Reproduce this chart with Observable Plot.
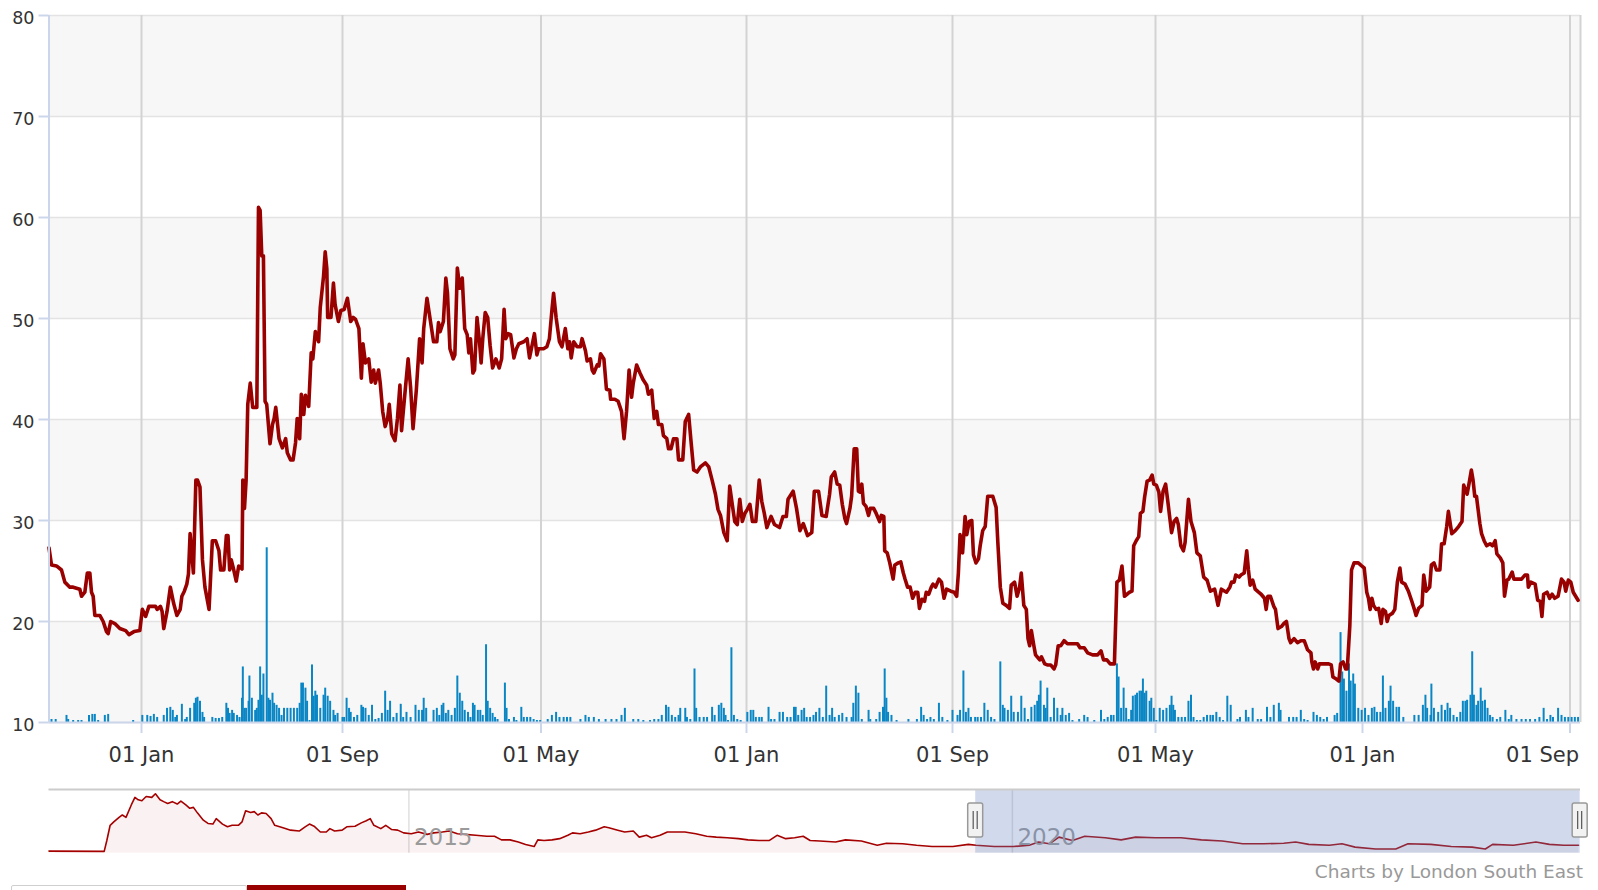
<!DOCTYPE html>
<html><head><meta charset="utf-8">
<script src="https://cdn.jsdelivr.net/npm/d3@7"></script>
<script src="https://cdn.jsdelivr.net/npm/@observablehq/plot@0.6"></script>
<style>
html,body{margin:0;padding:0;background:#fff;overflow:hidden;font-family:"DejaVu Sans",sans-serif;}
#wrap{position:relative;width:1598px;height:890px;overflow:hidden;}
#main{position:absolute;left:0;top:0;}
#nav{position:absolute;left:0;top:780px;}
#credits{position:absolute;right:15px;top:861px;font-size:18.5px;color:#999;white-space:nowrap;}
#tab1{position:absolute;left:11px;top:885px;width:234px;height:20px;border:1px solid #cfcfcf;border-radius:2px;background:#fff;}
#tab2{position:absolute;left:247px;top:885px;width:159px;height:20px;background:#990000;}
</style></head><body>
<div id="wrap"><div id="main"></div><div id="nav"></div>
<div id="credits">Charts by London South East</div>
<div id="tab1"></div><div id="tab2"></div></div>
<script>
// ---- time frame of the main chart (days are counted from START) ----
const START = new Date(Date.UTC(2019, 8, 12));
const END = new Date(Date.UTC(2024, 8, 14));
const NAV_START = new Date(Date.UTC(2012, 0, 8));
const NAV_END = new Date(Date.UTC(2024, 8, 15));

// ---- price series: day since START, closing price ----
const priceDays = [
0,3,9,15,19,25,29,37,39,43,
46,49,51,53,55,61,65,69,71,74,
79,85,92,96,102,109,112,116,120,128,
130,134,136,138,142,146,150,154,158,160,
163,166,168,170,174,177,179,182,185,188,
193,197,201,205,207,211,214,216,218,220,
223,226,229,233,234,236,238,240,243,246,
251,253,255,257,259,261,263,267,270,272,
274,278,282,286,288,292,295,298,300,303,
305,308,310,314,317,319,322,326,328,332,
334,336,337,341,344,346,350,353,357,361,
365,368,371,375,378,380,383,387,390,393,
395,399,401,404,407,410,412,415,419,422,
425,427,431,435,438,441,445,449,452,454,
458,466,470,472,474,478,481,483,486,490,
492,495,498,501,504,507,509,511,514,516,
519,522,524,526,529,532,535,538,542,546,
549,552,554,557,560,564,567,570,576,580,
583,586,589,592,594,600,604,607,610,612,
615,619,622,626,629,631,633,636,640,644,
646,650,652,656,658,660,664,666,668,672,
675,679,680,685,689,693,696,699,702,705,
707,711,715,719,723,725,729,732,735,737,
741,743,747,749,752,755,759,761,766,769,
773,776,779,783,787,793,797,801,805,808,
811,815,819,822,825,828,831,834,837,840,
843,846,849,853,857,860,863,866,871,875,
881,885,889,891,897,901,905,909,914,919,
922,927,931,936,940,942,946,949,952,955,
958,960,964,966,969,972,974,976,978,980,
983,986,988,992,995,999,1001,1004,1005,1008,
1011,1015,1017,1021,1024,1027,1029,1032,1035,1038,
1041,1044,1046,1049,1052,1054,1057,1060,1062,1065,
1069,1072,1075,1078,1083,1087,1090,1092,1094,1097,
1100,1102,1105,1108,1110,1113,1116,1118,1121,1124,
1127,1133,1137,1139,1142,1145,1149,1153,1155,1159,
1162,1165,1167,1170,1173,1175,1177,1179,1182,1184,
1189,1191,1195,1198,1202,1206,1208,1211,1214,1218,
1222,1226,1234,1237,1242,1246,1252,1258,1262,1265,
1269,1273,1278,1281,1284,1287,1290,1293,1296,1299,
1301,1304,1307,1309,1312,1314,1317,1320,1323,1325,
1328,1331,1333,1336,1339,1342,1346,1349,1352,1354,
1357,1360,1362,1366,1369,1373,1376,1380,1384,1388,
1392,1397,1401,1405,1411,1415,1417,1420,1422,1426,
1428,1432,1435,1437,1439,1442,1445,1449,1452,1456,
1458,1460,1463,1467,1469,1472,1476,1479,1482,1485,
1487,1491,1495,1499,1503,1507,1511,1512,1514,1516,
1519,1521,1526,1532,1535,1537,1541,1544,1546,1549,
1552,1554,1557,1559,1562,1567,1571,1574,1577,1579,
1581,1583,1585,1588,1591,1594,1596,1599,1601,1603,
1607,1610,1613,1616,1618,1622,1626,1630,1633,1635,
1638,1642,1644,1647,1651,1653,1656,1659,1663,1665,
1668,1671,1673,1677,1681,1685,1689,1691,1695,1698,
1700,1702,1704,1706,1710,1712,1715,1718,1722,1725,
1728,1730,1734,1737,1739,1742,1744,1748,1750,1755,
1759,1763,1766,1767,1770,1775,1778,1781,1783,1785,
1789,1792,1795,1798,1802,1806,1809,1811,1814,1817,
1820,1823,1826
];
const priceValues = [
27.3,25.6,25.5,25.1,23.9,23.4,23.4,23.2,22.5,22.9,
24.8,24.8,22.9,22.5,20.6,20.6,20,19,18.8,20,
19.8,19.3,19.1,18.7,19,19.1,21.2,20.5,21.5,21.5,
21.2,21.5,21,19.3,21,23.4,21.8,20.6,21.2,22.5,
23,23.7,24.7,28.7,24.8,34,34,33.3,26.1,23.4,
21.2,28,28,27,25.1,25.1,28.5,28.5,25.1,26.1,
25.1,24,25.5,25.2,34,31.2,34,41.5,43.6,41.2,
41.2,61,60.7,56.2,56.2,41.8,41.5,37.6,39.5,40.1,
41.2,38.1,37.2,38.1,36.7,36,36,37.7,40.1,38.1,
42.5,40.5,42.4,41.3,46.6,46,48.7,47.7,51.1,54.2,
56.6,54.9,50.1,50.1,53.5,51.4,49.7,50.8,50.9,52,
49.7,50.1,49.9,49,44.1,47.5,45.6,46,43.7,44.9,
43.6,44.9,43.6,40.8,39.3,40.1,41.5,38.6,37.9,40.1,
43.4,38.9,42.5,46,43.2,39.1,42.9,48,45.6,49,
52,47.7,47.7,49.6,48.7,49.7,54,52.5,47,46,
46.4,55,53,54,49,48.4,46.6,48,44.6,44.9,
50.1,47.7,45.6,48,50.6,50.1,47.3,45.1,46,45.1,
46,50.9,48,48.5,48.4,46.1,47,47.5,47.7,48,
46.1,47.3,48.5,46.4,47,47,47.2,48,50.8,52.5,
50.1,47.7,47.2,49,47,47.7,46.1,47.7,47.2,47.2,
48,46.8,45.8,46,44.9,44.6,45.4,45.3,46.5,46,
43,42.9,42,42,41.8,40.8,38.1,40.8,44.9,42.2,
43.6,45.4,44.6,43.9,43.4,42.5,42.9,40.1,40.8,39.5,
39.5,38.4,38.1,37.1,37.1,38.1,38.1,36,36,39.8,
40.5,37.7,35,34.8,35.3,35.7,35.3,34,32.6,31.1,
30.5,28.8,28,33.4,31.6,29.9,29.6,32.1,29.9,30.7,
31.1,31.6,29.9,29.9,34,31.9,30.7,29.3,30.4,29.6,
29.3,30.4,30.4,32.1,32.9,31.2,29,29.7,28.5,28.8,
32.9,32.9,30.5,30.4,32.6,34.3,34.8,33.6,33.5,31.6,
30.2,29.7,31.2,32.4,37.1,37.1,32.9,32.8,33.6,31.7,
31.4,30.5,31.2,31.2,30.7,29.9,30.5,30.4,27,26.8,
25.8,24.2,25.6,25.8,25.9,24.8,24.2,23.4,23.4,22.3,
22.9,22.9,21.3,22.2,22,22.9,22.7,23.4,23.7,23.4,
24.2,23.9,22.3,23.2,23,22.9,22.5,24.8,28.6,26.8,
30.4,28.6,29.9,30,26.6,25.8,26.2,27.5,29,29.4,
32.4,32.4,31.3,27.9,23.4,21.8,21.6,21.3,23.6,23.9,
22.5,23.4,24.8,21.6,21.2,18.3,17.6,19.1,17.6,16.7,
16.2,16.5,15.8,15.7,15.7,15.3,15.7,17.6,17.6,18.1,
17.8,17.8,17.8,17.4,17.4,16.9,16.7,16.7,17.1,16.2,
16.2,15.8,15.8,23.9,24.1,25.5,22.5,22.7,22.9,23,
27.5,28,28.4,30.7,30.9,32.3,33.9,34,34.5,33.6,
33.5,32.8,30.9,32.9,33.6,31.6,28.8,29.9,30.2,29.6,
27.5,27,27.8,32.1,29.9,28.8,26.8,26.5,24.4,24.1,
23,23.2,21.6,23.2,22.9,23.4,23.9,23.9,24.6,24.4,
24.6,24.8,27,25.1,23.6,24.1,23.2,22.9,22.7,22.3,
21.2,22.5,22.5,21.5,21.2,19.3,19.5,19.8,20,18.3,
17.9,18.3,17.9,18.1,18.1,17.2,16.9,16,15.3,16,
15.3,15.8,15.8,15.8,15.7,14.5,14.3,14.1,15.8,16,
15.3,15.3,19.6,25.1,25.8,25.8,25.5,25.3,22.9,22.3,
21.2,22.3,21.6,21.2,21.3,19.8,21.2,21,20,20.6,
20.8,21.2,23.9,25.3,23.9,23.7,23,22,21.2,20.6,
21.3,21.6,24.6,23,23.4,25.6,25.8,25.1,25.1,27.7,
27.7,29.4,30.9,28.7,29,29.4,29.9,33.5,32.6,34,
35,34,32.4,32.4,29.7,28.7,28,27.5,27.7,27.5,
28,26.7,26.3,25.8,22.5,24.1,24.2,24.9,24.2,24.2,
24.2,24.6,24.6,23.4,23.9,23.7,22.1,22,20.5,22.7,
22.9,22.3,22.7,22.3,22.5,24.2,23.9,23,24.1,23.9,
22.9,22.5,22.1
];

// ---- volume series: day since START, volume (100k shares) ----
const volumeDays = [
3,8,21,23,29,35,39,48,52,55,
59,67,71,101,112,118,122,126,130,138,
142,146,149,152,154,160,164,166,170,175,
177,179,182,185,187,197,201,205,209,214,
216,218,221,223,227,230,233,234,236,238,
241,242,245,249,251,253,255,257,259,263,
265,267,270,272,275,278,281,284,288,292,
296,300,303,305,307,310,312,315,318,320,
322,324,328,332,334,337,340,344,346,349,
355,357,360,363,365,369,373,378,380,383,
387,391,395,399,403,407,410,413,417,421,
426,429,433,438,444,448,452,454,457,466,
470,473,476,478,481,484,488,492,495,498,
501,504,508,511,514,516,520,523,526,530,
532,535,538,541,544,553,555,558,564,567,
573,576,580,584,588,592,596,605,610,615,
619,624,628,632,644,650,654,660,666,674,
681,687,693,697,707,713,719,727,732,737,
741,746,749,753,757,761,763,769,771,775,
780,782,786,791,795,801,804,809,812,815,
817,820,824,827,831,835,843,847,850,853,
857,860,868,871,875,881,885,890,894,898,
900,903,907,910,913,917,921,924,928,932,
936,940,943,946,951,955,960,966,968,971,
974,978,986,988,995,999,1003,1005,1007,1009,
1013,1019,1033,1043,1048,1051,1055,1059,1063,1069,
1073,1079,1085,1091,1094,1098,1101,1104,1107,1112,
1115,1119,1123,1127,1131,1135,1142,1145,1147,1151,
1155,1158,1163,1167,1171,1175,1179,1183,1186,1188,
1190,1194,1196,1198,1202,1206,1210,1214,1216,1220,
1224,1228,1236,1242,1246,1254,1262,1266,1270,1274,
1277,1281,1283,1286,1289,1292,1295,1298,1300,1303,
1305,1308,1310,1312,1314,1316,1320,1322,1325,1328,
1332,1336,1340,1344,1346,1348,1350,1354,1358,1362,
1366,1369,1372,1376,1380,1384,1388,1392,1395,1399,
1403,1407,1412,1416,1424,1427,1434,1437,1442,1448,
1452,1459,1463,1467,1473,1475,1485,1490,1494,1499,
1503,1507,1514,1518,1522,1526,1530,1539,1542,1546,
1548,1550,1553,1556,1558,1561,1563,1567,1571,1575,
1579,1583,1586,1589,1593,1596,1599,1603,1605,1608,
1612,1615,1620,1633,1638,1643,1646,1648,1652,1653,
1656,1661,1665,1669,1672,1675,1679,1683,1687,1690,
1693,1695,1699,1701,1703,1706,1708,1711,1713,1716,
1719,1722,1725,1730,1734,1740,1744,1747,1753,1759,
1764,1769,1775,1780,1785,1789,1793,1796,1802,1806,
1810,1814,1818,1822,1826
];
const volumeValues = [
3,3,7,3,2,2,2,7,8,8,
2,7,8,2,7,7,6,8,5,7,
14,15,12,5,7,18,3,5,14,19,
24,25,21,10,5,5,4,4,5,19,
14,9,12,9,7,5,24,55,14,14,
21,46,24,12,14,22,55,27,48,173,
24,22,29,19,17,14,7,14,14,14,
14,14,19,39,39,34,21,2,57,26,
31,27,14,27,34,26,21,12,7,9,
5,5,24,14,10,5,7,17,15,14,
7,17,3,4,9,31,12,21,5,9,
18,5,10,5,17,12,12,24,14,12,
14,7,17,19,9,12,7,14,46,29,
21,12,10,5,19,17,12,12,7,77,
21,14,9,5,3,39,14,3,5,2,
15,5,5,5,3,2,2,3,7,10,
5,5,5,5,3,7,5,5,3,3,
3,3,7,14,3,3,2,2,3,3,
7,17,15,7,5,7,14,14,5,3,
53,14,5,5,5,15,7,17,19,14,
7,2,74,7,3,2,10,12,12,5,
5,5,15,3,3,10,10,5,5,15,
15,7,12,14,5,5,7,10,14,5,
36,7,14,5,7,9,5,5,19,36,
29,3,12,3,3,10,15,53,24,10,
7,2,3,3,15,7,3,5,3,19,
5,2,12,7,12,51,10,14,5,5,
5,5,19,12,5,3,60,17,14,12,
26,10,10,26,14,3,15,17,21,27,
41,17,14,34,5,24,14,7,14,7,
9,2,3,7,5,2,12,3,5,7,
7,58,45,14,34,14,3,12,26,27,
29,31,31,43,29,31,21,24,14,2,
14,12,14,17,26,17,12,5,5,5,
21,27,5,2,2,5,7,7,7,10,
5,2,26,17,3,5,12,5,14,3,
3,15,5,17,19,12,5,5,5,12,
3,2,10,7,5,3,5,7,9,89,
50,43,31,58,41,48,38,14,12,14,
7,14,15,10,10,46,14,21,36,21,
15,15,5,7,7,17,27,14,7,38,
14,10,17,12,19,14,7,5,10,21,
21,22,27,70,27,17,21,34,21,22,
14,7,5,3,5,12,3,7,3,3,
3,3,3,5,14,3,7,5,14,7,
5,5,5,5,5
];
const VOLUME_TO_PRICE = 0.1; // volume pane scaling onto the price axis

// ---- navigator (full history) ----
const navDates = [
"2012-01-08","2012-06-23","2012-07-01","2012-07-11","2012-07-22","2012-08-07","2012-08-17","2012-08-28","2012-09-13","2012-09-24","2012-10-04","2012-10-15","2012-10-28","2012-11-14","2012-11-25","2012-12-09","2012-12-20",
"2013-01-01","2013-01-15","2013-01-30","2013-02-10","2013-02-25","2013-03-09","2013-03-20","2013-04-01","2013-04-19","2013-05-03","2013-05-18","2013-05-28","2013-06-16","2013-07-01","2013-07-15","2013-08-03","2013-08-14","2013-08-25","2013-09-09","2013-09-20","2013-10-01","2013-10-12","2013-10-26","2013-11-10","2013-11-21","2013-12-16",
"2014-01-08","2014-02-03","2014-02-21","2014-03-06","2014-03-20","2014-04-08","2014-04-26","2014-05-07","2014-05-21","2014-06-13","2014-06-27","2014-07-22","2014-08-10","2014-08-25","2014-09-06","2014-09-17","2014-10-08","2014-10-23","2014-11-10","2014-11-28","2014-12-16",
"2015-01-08","2015-01-30","2015-02-25","2015-03-17","2015-04-12","2015-05-03","2015-05-28","2015-06-20","2015-07-22","2015-08-25","2015-09-17","2015-10-08","2015-11-03","2015-11-28","2015-12-20",
"2016-01-15","2016-01-26","2016-02-14","2016-03-09","2016-04-01","2016-04-26","2016-05-10","2016-06-02","2016-06-27","2016-07-19","2016-08-14","2016-08-28","2016-09-24","2016-10-15","2016-11-10","2016-11-28","2016-12-20",
"2017-01-04","2017-01-30","2017-02-21","2017-03-17","2017-04-15","2017-05-18","2017-06-20","2017-07-19","2017-08-21","2017-09-24","2017-10-23","2017-11-25","2017-12-27",
"2018-01-19","2018-02-14","2018-03-13","2018-04-08","2018-04-29","2018-05-28","2018-07-15","2018-08-14","2018-10-01","2018-11-18","2018-12-16",
"2019-02-03","2019-03-17","2019-05-03","2019-07-05","2019-08-21","2019-09-13","2019-11-07",
"2020-01-04","2020-02-21","2020-03-20","2020-04-22","2020-05-21","2020-07-01","2020-08-07","2020-10-08","2020-11-25",
"2021-01-08","2021-03-09","2021-05-25","2021-07-26","2021-09-27","2021-11-28",
"2022-01-30","2022-04-01","2022-05-07","2022-06-16","2022-08-17","2022-09-24","2022-11-03",
"2023-01-04","2023-03-06","2023-04-12","2023-06-20","2023-08-21","2023-10-23","2023-12-02","2023-12-24",
"2024-02-25","2024-05-03","2024-06-13","2024-07-26","2024-09-09"
];
const navValues = [
7,6,42,92,103,118,126,118,159,184,176,173,187,184,196,176,170,
164,170,162,172,159,148,151,133,109,98,96,114,96,87,92,92,103,140,134,137,126,133,131,114,92,84,
76,73,87,96,89,70,70,81,73,76,87,89,100,107,114,92,81,92,78,76,67,
64,70,62,67,70,73,64,62,59,56,56,44,44,37,29,
22,44,42,44,48,59,67,64,70,76,87,84,76,70,73,53,59,
51,59,70,70,70,64,56,53,51,48,44,42,42,
59,48,51,56,42,40,37,44,40,26,33,
31,26,22,22,29,26,22,
22,26,37,31,53,42,56,51,44,
53,51,51,44,40,31,
31,33,37,29,26,31,20,
14,14,31,29,22,20,14,29,
26,37,29,26,26
];

// ---- axes ----
const yTicks = [10, 20, 30, 40, 50, 60, 70, 80];
const xTickDates = ["2020-01-01","2020-09-01","2021-05-01","2022-01-01","2022-09-01","2023-05-01","2024-01-01","2024-09-01"];
const xTickLabels = ["01 Jan","01 Sep","01 May","01 Jan","01 Sep","01 May","01 Jan","01 Sep"];
// the source uses an ordinal (trading-day) time axis, so its month ticks are not evenly spaced;
// a piecewise time scale reproduces where each labelled date falls
const xTickPixels = [141, 342, 540.5, 746, 952, 1155, 1362, 1569.5];
const navTickDates = ["2015-01-01","2020-01-01"];
const navTickLabels = ["2015","2020"];

// ---- build tables ----
const parseDate = s => new Date(s + "T00:00:00Z");
const nP = Math.min(priceDays.length, priceValues.length);
const prices = d3.range(nP).map(i => ({date: d3.utcDay.offset(START, priceDays[i]), price: priceValues[i]}));
const nV = Math.min(volumeDays.length, volumeValues.length);
const volumes = d3.range(nV).map(i => ({date: d3.utcDay.offset(START, volumeDays[i]), volume: volumeValues[i]}));
const nN = Math.min(navDates.length, navValues.length);
const navData = d3.range(nN).map(i => ({date: parseDate(navDates[i]), value: navValues[i]}));
const xTicks = xTickDates.map(parseDate);
const xLabel = new Map(xTicks.map((d, i) => [+d, xTickLabels[i]]));
const xTicksInner = xTicks.slice(0, -1);
const xTicksLast = xTicks.slice(-1);
const navTicks = navTickDates.map(parseDate);
const bands = [];
for (let i = 0; i < yTicks.length - 1; i += 2) bands.push({y1: yTicks[i], y2: yTicks[i + 1]});
const base = yTicks[0];

const W = 1598, ML = 48.5, MR = 18;
const font = "'DejaVu Sans', sans-serif";

const main = Plot.plot({
  width: W, height: 780,
  marginLeft: ML, marginRight: MR, marginTop: 15, marginBottom: 58,
  style: {fontFamily: font, color: "#333", background: "transparent", overflow: "visible"},
  x: {type: "utc", domain: [START, ...xTicks, END], range: [ML, ...xTickPixels, W - MR]},
  y: {domain: [10, 80]},
  marks: [
    Plot.rect(bands, {y1: "y1", y2: "y2", fill: "#f7f7f7"}),
    Plot.gridY(yTicks, {stroke: "#e3e3e3", strokeWidth: 1.6, strokeOpacity: 1}),
    Plot.gridX(xTicks, {stroke: "#d3d3d3", strokeWidth: 2, strokeOpacity: 1}),
    Plot.ruleX([END], {stroke: "#d3d3d3", strokeWidth: 2}),
    Plot.ruleX(volumes, {x: "date", y1: () => base, y2: d => base + d.volume * VOLUME_TO_PRICE, stroke: "#0a86c4", strokeWidth: 2}),
    Plot.line(prices, {x: "date", y: "price", stroke: "#990000", strokeWidth: 3.6, strokeLinejoin: "round", strokeLinecap: "round"}),
    Plot.ruleX([START], {stroke: "#ccd6eb", strokeWidth: 2}),
    Plot.ruleY([base], {stroke: "#ccd6eb", strokeWidth: 2}),
    Plot.axisY(yTicks, {tickSize: 10, stroke: "#ccd6eb", strokeWidth: 2, fill: "none", label: null}),
    Plot.axisY(yTicks, {tickSize: 0, tickPadding: 14.5, fill: "#333", fontSize: 17.5, dy: 3, label: null}),
    Plot.axisX(xTicks, {tickSize: 11, stroke: "#ccd6eb", strokeWidth: 2, fill: "none", label: null}),
    Plot.axisX(xTicksInner, {tickSize: 0, tickPadding: 25, fill: "#333", fontSize: 21, tickFormat: d => xLabel.get(+d), label: null}),
    Plot.axisX(xTicksLast, {tickSize: 0, tickPadding: 25, fill: "#333", fontSize: 21, textAnchor: "end", dx: 9, tickFormat: d => xLabel.get(+d), label: null})
  ]
});
document.getElementById("main").appendChild(main);

const nav = Plot.plot({
  width: W, height: 80,
  marginLeft: ML, marginRight: MR, marginTop: 9, marginBottom: 7.3,
  style: {fontFamily: font, color: "#333", background: "transparent", overflow: "visible"},
  x: {type: "utc", domain: [NAV_START, NAV_END], axis: null},
  y: {domain: [0, 210], axis: null},
  marks: [
    Plot.gridX(navTicks, {stroke: "#e0e0e0", strokeWidth: 1.5, strokeOpacity: 1}),
    Plot.areaY(navData, {x: "date", y: "value", fill: "#990000", fillOpacity: 0.05}),
    Plot.line(navData, {x: "date", y: "value", stroke: "#a50000", strokeWidth: 1.6}),
    Plot.text(navTicks, {x: d => d, text: (d, i) => navTickLabels[i], frameAnchor: "bottom", lineAnchor: "middle", textAnchor: "start", dx: 5, dy: -16, fontSize: 23, fill: "#9a9a9a"}),
    Plot.rect([{x1: START, x2: END}], {x1: "x1", x2: "x2", fill: "#6685c2", fillOpacity: 0.3}),
    Plot.ruleY([210], {stroke: "#cccccc", strokeWidth: 2})
  ]
});
document.getElementById("nav").appendChild(nav);

// navigator handles at the ends of the selected range
const sx = nav.scale("x");
const svgNav = d3.select(nav);
for (const d of [START, END]) {
  const x = sx.apply(d);
  const g = svgNav.append("g");
  g.append("rect").attr("x", x - 7.5).attr("y", 23).attr("width", 15).attr("height", 34).attr("rx", 2)
    .attr("fill", "#f2f2f2").attr("stroke", "#999").attr("stroke-width", 1.5);
  g.append("path").attr("d", `M${x - 2},31V49M${x + 2},31V49`).attr("stroke", "#555").attr("stroke-width", 1.2);
}
</script>
</body></html>
